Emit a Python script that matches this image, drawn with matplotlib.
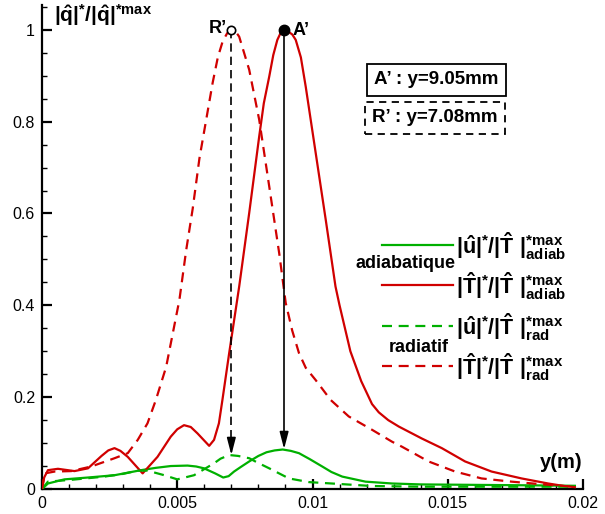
import matplotlib
matplotlib.use("Agg")
import matplotlib.pyplot as plt
import numpy as np
from matplotlib.ticker import MultipleLocator, FixedLocator, FixedFormatter

plt.rcParams['font.family'] = ['Liberation Sans', 'DejaVu Sans']
plt.rcParams['mathtext.fontset'] = 'custom'
plt.rcParams['mathtext.rm'] = 'Liberation Sans:bold'
plt.rcParams['mathtext.it'] = 'Liberation Sans:bold'
plt.rcParams['mathtext.bf'] = 'Liberation Sans:bold'
plt.rcParams['mathtext.sf'] = 'Liberation Sans:bold'

# ---- data (x in mm, converted to m) ----
x_T_adiab = [0, 0.08, 0.22, 0.59, 1.2, 1.7, 2.2, 2.45, 2.68, 2.9, 3.17, 3.72, 4.27, 4.76, 5.0,
             5.25, 5.5, 5.75, 6.18, 6.36, 6.54, 6.67, 6.92, 7.29, 7.66, 8.03, 8.2, 8.40, 8.55,
             8.70, 8.82, 8.95, 9.1, 9.25, 9.38, 9.57, 9.75, 10.12, 10.49, 10.85, 11.0, 11.4,
             11.8, 12.2, 12.45, 12.8, 13.19, 14.04, 14.78, 15.64, 16.62, 17.73, 18.71, 19.3, 19.7]
T_adiab = [0, 0.025, 0.041, 0.044, 0.039, 0.045, 0.072, 0.084, 0.089, 0.083, 0.070, 0.034,
           0.070, 0.114, 0.130, 0.139, 0.135, 0.121, 0.094, 0.107, 0.143, 0.194, 0.296, 0.441,
           0.601, 0.768, 0.84, 0.898, 0.945, 0.978, 0.993, 1.0, 0.996, 0.99, 0.978, 0.94, 0.876,
           0.731, 0.586, 0.441, 0.40, 0.30, 0.235, 0.185, 0.167, 0.150, 0.136, 0.110, 0.089,
           0.060, 0.038, 0.023, 0.012, 0.0065, 0.004]

x_T_rad = [0, 0.1, 0.47, 1.08, 1.82, 2.68, 3.17, 3.54, 3.9, 4.21, 4.59, 5.08, 5.33, 5.57, 5.82,
           6.31, 6.5, 6.68, 6.85, 7.0, 7.15, 7.29, 7.66, 8.03, 8.40, 8.77, 9.01, 9.25, 9.5, 9.75,
           10.12, 10.67, 11.34, 12.2, 12.94, 13.31, 14.29, 15.27, 16.25, 17.36, 18.34, 19.3, 19.7]
T_rad = [0, 0.034, 0.038, 0.039, 0.049, 0.067, 0.078, 0.107, 0.143, 0.194, 0.266, 0.412, 0.52,
         0.61, 0.72, 0.885, 0.94, 0.975, 0.993, 1.0, 0.997, 0.985, 0.913, 0.804, 0.659, 0.513,
         0.405, 0.345, 0.296, 0.264, 0.237, 0.194, 0.158, 0.129, 0.103, 0.092, 0.060, 0.038,
         0.023, 0.016, 0.011, 0.0065, 0.005]

x_u_adiab = [0, 0.22, 0.83, 1.7, 2.68, 3.66, 4.2, 4.76, 5.38, 5.7, 5.99, 6.4, 6.7, 6.9, 7.1,
             7.35, 7.66, 8.0, 8.3, 8.6, 8.9, 9.2, 9.5, 9.9, 10.36, 10.7, 11.1, 11.96, 12.94, 14,
             16, 18, 19.7]
u_adiab = [0, 0.012, 0.021, 0.025, 0.030, 0.041, 0.046, 0.050, 0.051, 0.049, 0.045, 0.034, 0.025,
           0.028, 0.038, 0.048, 0.060, 0.072, 0.080, 0.084, 0.086, 0.083, 0.078, 0.065, 0.049,
           0.037, 0.027, 0.016, 0.012, 0.010, 0.009, 0.008, 0.007]

x_u_rad = [0, 0.22, 1.08, 2.31, 3.0, 3.54, 3.9, 4.52, 5.0, 5.62, 6.36, 6.6, 6.92, 7.25, 7.66,
           7.95, 8.4, 9.13, 9.87, 10.98, 12.2, 14, 16, 18, 19.7]
u_rad = [0, 0.016, 0.020, 0.027, 0.033, 0.040, 0.040, 0.030, 0.021, 0.030, 0.056, 0.066, 0.074,
         0.072, 0.067, 0.058, 0.045, 0.023, 0.015, 0.011, 0.0065, 0.005, 0.005, 0.005, 0.005]

x_ticks = [0, 0.005, 0.01, 0.015, 0.02]
x_ticklabels = ['0', '0.005', '0.01', '0.015', '0.02']
y_ticks = [0, 0.2, 0.4, 0.6, 0.8, 1.0]
y_ticklabels = ['0', '0.2', '0.4', '0.6', '0.8', '1']

peak_A = (8.95e-3, 1.0, 0.087)   # x, top, arrow tip
peak_R = (7.0e-3, 1.0, 0.074)

RED = '#d00000'
GREEN = '#00b000'
DASH = (0, (4.5, 3.0))

W, H = 605, 514
fig = plt.figure(figsize=(W / 100, H / 100), dpi=100)
ax = fig.add_axes([42 / W, 25 / H, (583 - 42) / W, (489 - 5) / H])

m = lambda a: np.asarray(a) * 1e-3
ax.plot(m(x_u_adiab), u_adiab, color=GREEN, lw=1.6, zorder=3)
ax.plot(m(x_T_adiab), T_adiab, color=RED, lw=1.6, zorder=3)
ax.plot(m(x_u_rad), u_rad, color=GREEN, lw=1.6, ls=DASH, zorder=3)
ax.plot(m(x_T_rad), T_rad, color=RED, lw=1.6, ls=DASH, zorder=3)

# vertical arrows
for (xp, top, tip), ls in [(peak_A, '-'), (peak_R, (0, (5, 3)))]:
    ax.plot([xp, xp], [top, tip + 0.02], color='black', lw=1.2, ls=ls, zorder=4)
    ax.annotate('', xy=(xp, tip), xytext=(xp, tip + 0.035),
                arrowprops=dict(arrowstyle='-|>,head_length=0.85,head_width=0.22',
                                color='black', lw=1.2, mutation_scale=12,
                                shrinkA=0, shrinkB=0), zorder=5)

ax.plot([peak_A[0]], [1.0], 'o', ms=7.5, color='black', zorder=6)
ax.plot([peak_R[0]], [1.0], 'o', ms=6, mfc='white', mec='black', mew=1.2, zorder=6)
ax.text(6.82e-3, 1.003, 'R\u2019', ha='right', va='center', fontsize=13, fontweight='bold')
ax.text(9.25e-3, 0.998, 'A\u2019', ha='left', va='center', fontsize=13, fontweight='bold')

ax.set_xlim(0, 0.02)
ax.set_ylim(0, 1.054)
for s in ['top', 'right']:
    ax.spines[s].set_visible(False)
for s in ['left', 'bottom']:
    ax.spines[s].set_linewidth(1.6)
ax.xaxis.set_major_locator(FixedLocator(x_ticks))
ax.xaxis.set_major_formatter(FixedFormatter(x_ticklabels))
ax.yaxis.set_major_locator(FixedLocator(y_ticks))
ax.yaxis.set_major_formatter(FixedFormatter(y_ticklabels))
ax.xaxis.set_minor_locator(MultipleLocator(0.001))
ax.yaxis.set_minor_locator(MultipleLocator(0.05))
ax.tick_params(which='major', direction='in', length=7, width=1.6, labelsize=11.5, pad=5)
ax.tick_params(which='minor', direction='in', length=3.5, width=1.0)
ax.tick_params(top=False, right=False, which='both')

def fp(x, y):
    return (x / W, 1 - y / H)

# axis titles
fig.text(*fp(54, 2), r'$|\hat{q}|^{*}/|\hat{q}|^{*max}$', ha='left', va='top', fontsize=15)
fig.text(*fp(583, 463), 'y(m)', ha='right', va='center', fontsize=14.5, fontweight='bold')

# info boxes
fig.text(*fp(436.5, 80), 'A\u2019 : y=9.05mm', ha='center', va='center', fontsize=13.5,
         fontweight='bold',
         bbox=dict(boxstyle='square,pad=0.38', fc='white', ec='black', lw=1.3))
fig.text(*fp(435, 118), 'R\u2019 : y=7.08mm', ha='center', va='center', fontsize=13.5,
         fontweight='bold',
         bbox=dict(boxstyle='square,pad=0.38', fc='white', ec='black', lw=1.3, ls=(0, (4, 3))))

# legend
leg_items = [
    (245, GREEN, '-', r'$|\hat{u}|^{*}/|\hat{T}\ |^{*max}_{adiab}$'),
    (285, RED, '-', r'$|\hat{T}|^{*}/|\hat{T}\ |^{*max}_{adiab}$'),
    (326, GREEN, DASH, r'$|\hat{u}|^{*}/|\hat{T}\ |^{*max}_{rad}$'),
    (366, RED, DASH, r'$|\hat{T}|^{*}/|\hat{T}\ |^{*max}_{rad}$'),
]
for y, c, ls, lab in leg_items:
    fig.add_artist(plt.Line2D([382 / W, 453 / W], [1 - y / H, 1 - y / H], color=c, lw=1.6,
                              ls=ls, transform=fig.transFigure))
    fig.text(*fp(456, y + 9), lab, ha='left', va='baseline', fontsize=15.5)
fig.text(*fp(405, 263), 'adiabatique', ha='center', va='center', fontsize=13, fontweight='bold')
fig.text(*fp(419, 347), 'radiatif', ha='center', va='center', fontsize=13, fontweight='bold')

fig.savefig('out.png', dpi=100)
